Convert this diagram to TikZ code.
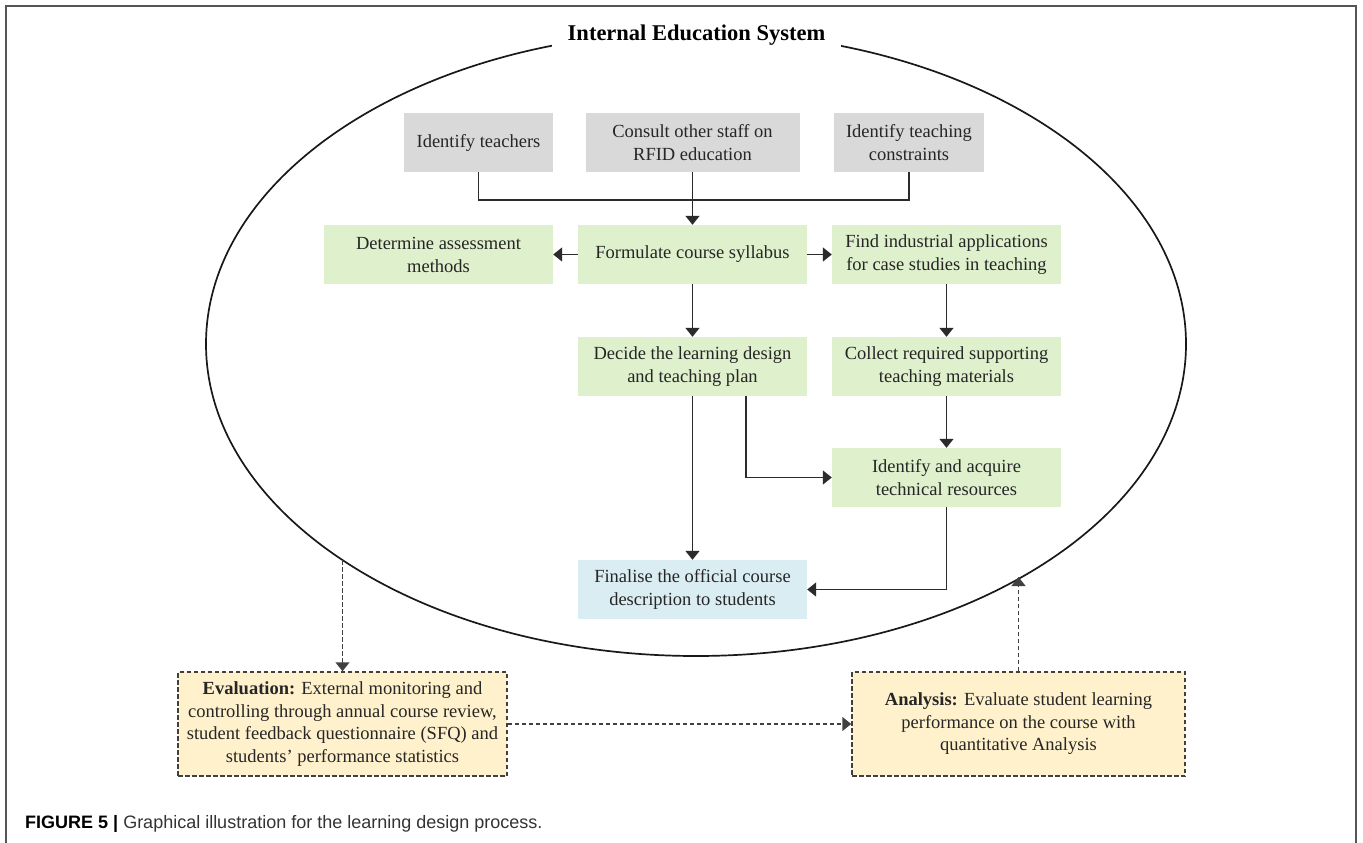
\documentclass[tikz,border=0pt]{standalone}
\usepackage{fontspec}
\setmainfont{Liberation Serif}
\newfontfamily\capfont{Liberation Sans}
\usetikzlibrary{arrows.meta}
\definecolor{boxgray}{HTML}{D9D9D9}
\definecolor{boxgreen}{HTML}{DFF0CD}
\definecolor{boxblue}{HTML}{DAEDF3}
\definecolor{boxyellow}{HTML}{FFF1CC}
\definecolor{txt}{HTML}{262626}
\definecolor{ln}{HTML}{2B2B2B}
\definecolor{dln}{HTML}{404040}
\definecolor{framec}{HTML}{555555}
\definecolor{capgray}{HTML}{333333}
\begin{document}
\begin{tikzpicture}[x=1pt,y=-1pt,
  stepbox/.style={minimum width=229pt, minimum height=59pt, inner sep=0pt, align=center, text=txt, font=\fontsize{18.5}{23}\selectfont},
  graybox/.style={stepbox, fill=boxgray},
  greenbox/.style={stepbox, fill=boxgreen},
  bluebox/.style={stepbox, fill=boxblue},
  yelbox/.style={stepbox, fill=boxyellow, draw=dln, line width=1.5pt, dash pattern=on 4.5pt off 2.5pt, font=\fontsize{18.5}{22.5}\selectfont},
  conn/.style={draw=ln, line width=1.5pt},
  arr/.style={conn, -{Triangle[length=9pt,width=14pt]}},
  darr/.style={draw=dln, line width=1.5pt, dash pattern=on 4.5pt off 2.5pt, -{Triangle[length=9pt,width=14pt]}}
]
\useasboundingbox (0,0) rectangle (1363,843);
\draw[framec, line width=1.5pt] (6,843) -- (6,6) -- (1356,6) -- (1356,843);
\draw[black!90, line width=1.7pt] (696,344) ellipse [x radius=490pt, y radius=312pt];
\node[fill=white, inner xsep=16pt, inner ysep=4pt, font=\fontsize{22.5}{27}\selectfont\bfseries, text=black] (title) at (696.5,35) {Internal Education System};

\node[graybox, minimum width=149pt] (teach) at (478.5,142.5) {Identify teachers};
\node[graybox, minimum width=214pt] (consult) at (692.5,142.5) {Consult other staff on\\RFID education};
\node[graybox, minimum width=150pt] (constr) at (909,142.5) {Identify teaching\\constraints};
\node[greenbox] (determ) at (438.5,254.5) {Determine assessment\\methods};
\node[greenbox] (formul) at (692.5,254.5) {Formulate course syllabus};
\node[greenbox] (find) at (946.5,254.5) {Find industrial applications\\for case studies in teaching};
\node[greenbox] (decide) at (692.5,366.5) {Decide the learning design\\and teaching plan};
\node[greenbox] (collect) at (946.5,366.5) {Collect required supporting\\teaching materials};
\node[greenbox] (acquire) at (946.5,477.5) {Identify and acquire\\technical resources};
\node[bluebox] (final) at (692.5,589.5) {Finalise the official course\\description to students};

\node[yelbox, minimum width=329pt, minimum height=104pt] (eval) at (342.5,724) {\textbf{Evaluation:} External monitoring and\\controlling through annual course review,\\student feedback questionnaire (SFQ) and\\students’ performance statistics};
\node[yelbox, minimum width=333pt, minimum height=104pt] (anal) at (1018.5,724) {\textbf{Analysis:} Evaluate student learning\\performance on the course with\\quantitative Analysis};

\coordinate (e1) at (342.5,560);
\coordinate (e2) at (1018.5,577);

\draw[conn] (teach.south) -- ++(0,28) -| (constr.south);
\draw[arr] (consult.south) -- (formul.north);
\draw[arr] (formul.west) -- (determ.east);
\draw[arr] (formul.east) -- (find.west);
\draw[arr] (formul.south) -- (decide.north);
\draw[arr] (find.south) -- (collect.north);
\draw[arr] (collect.south) -- (acquire.north);
\draw[arr] ([xshift=53.5pt]decide.south) |- (acquire.west);
\draw[arr] (decide.south) -- (final.north);
\draw[arr] (acquire.south) |- (final.east);
\draw[darr] (e1) -- (eval.north);
\draw[darr] (eval.east) -- (anal.west);
\draw[darr] (anal.north) -- (e2);

\node[anchor=west, inner sep=0pt, font=\capfont\fontsize{18}{22}\selectfont, text=capgray] (cap) at (25,824) {\textcolor{black}{\textbf{FIGURE 5 |}} Graphical illustration for the learning design process.};
\end{tikzpicture}
\end{document}
